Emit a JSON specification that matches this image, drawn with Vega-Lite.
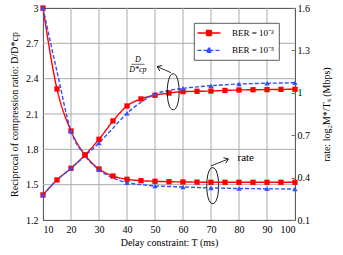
{
  "$schema": "https://vega.github.io/schema/vega-lite/v6.json",
  "width": 252,
  "height": 212,
  "autosize": "none",
  "padding": {"left": 43, "top": 8, "right": 48, "bottom": 35},
  "config": {
    "font": "Liberation Serif",
    "view": {"stroke": "#333", "strokeWidth": 0.9},
    "axis": {"labelFont": "Liberation Serif", "titleFont": "Liberation Serif", "labelFontSize": 10, "titleFontSize": 10, "titleFontWeight": "normal", "labelColor": "#000", "titleColor": "#000", "grid": false, "domain": false},
    "legend": {
      "orient": "none", "legendX": 151, "legendY": 15, "padding": 4,
      "strokeColor": "#333", "strokeWidth": 0.8, "fillColor": "white",
      "labelFont": "Liberation Serif", "labelFontSize": 9, "labelColor": "#000",
      "symbolSize": 100, "symbolStrokeWidth": 1.3, "symbolOpacity": 1, "symbolOffset": 5, "labelOffset": 17, "rowPadding": 5.4
    }
  },
  "datasets": {
    "curves": [
      {"T": 10, "ber": "BER = 10⁻³", "ratio": 1.413, "rate": 1.6},
      {"T": 15, "ber": "BER = 10⁻³", "ratio": 1.54, "rate": 1.027},
      {"T": 20, "ber": "BER = 10⁻³", "ratio": 1.639, "rate": 0.73},
      {"T": 25, "ber": "BER = 10⁻³", "ratio": 1.752, "rate": 0.56},
      {"T": 30, "ber": "BER = 10⁻³", "ratio": 1.885, "rate": 0.461},
      {"T": 35, "ber": "BER = 10⁻³", "ratio": 2.041, "rate": 0.411},
      {"T": 40, "ber": "BER = 10⁻³", "ratio": 2.168, "rate": 0.388},
      {"T": 45, "ber": "BER = 10⁻³", "ratio": 2.228, "rate": 0.378},
      {"T": 50, "ber": "BER = 10⁻³", "ratio": 2.259, "rate": 0.374},
      {"T": 55, "ber": "BER = 10⁻³", "ratio": 2.278, "rate": 0.371},
      {"T": 60, "ber": "BER = 10⁻³", "ratio": 2.29, "rate": 0.369},
      {"T": 65, "ber": "BER = 10⁻³", "ratio": 2.293, "rate": 0.368},
      {"T": 70, "ber": "BER = 10⁻³", "ratio": 2.295, "rate": 0.367},
      {"T": 75, "ber": "BER = 10⁻³", "ratio": 2.3, "rate": 0.367},
      {"T": 80, "ber": "BER = 10⁻³", "ratio": 2.304, "rate": 0.367},
      {"T": 85, "ber": "BER = 10⁻³", "ratio": 2.306, "rate": 0.367},
      {"T": 90, "ber": "BER = 10⁻³", "ratio": 2.307, "rate": 0.367},
      {"T": 95, "ber": "BER = 10⁻³", "ratio": 2.309, "rate": 0.367},
      {"T": 100, "ber": "BER = 10⁻³", "ratio": 2.31, "rate": 0.367},
      {"T": 10, "ber": "BER = 10⁻⁵", "ratio": 1.413, "rate": 1.6},
      {"T": 15, "ber": "BER = 10⁻⁵", "ratio": 1.54, "rate": 1.15},
      {"T": 20, "ber": "BER = 10⁻⁵", "ratio": 1.639, "rate": 0.73},
      {"T": 25, "ber": "BER = 10⁻⁵", "ratio": 1.745, "rate": 0.555},
      {"T": 30, "ber": "BER = 10⁻⁵", "ratio": 1.854, "rate": 0.455},
      {"T": 35, "ber": "BER = 10⁻⁵", "ratio": 1.98, "rate": 0.397},
      {"T": 40, "ber": "BER = 10⁻⁵", "ratio": 2.106, "rate": 0.364},
      {"T": 45, "ber": "BER = 10⁻⁵", "ratio": 2.2, "rate": 0.35},
      {"T": 50, "ber": "BER = 10⁻⁵", "ratio": 2.27, "rate": 0.341},
      {"T": 55, "ber": "BER = 10⁻⁵", "ratio": 2.3, "rate": 0.337},
      {"T": 60, "ber": "BER = 10⁻⁵", "ratio": 2.318, "rate": 0.334},
      {"T": 65, "ber": "BER = 10⁻⁵", "ratio": 2.33, "rate": 0.33},
      {"T": 70, "ber": "BER = 10⁻⁵", "ratio": 2.34, "rate": 0.327},
      {"T": 75, "ber": "BER = 10⁻⁵", "ratio": 2.348, "rate": 0.325},
      {"T": 80, "ber": "BER = 10⁻⁵", "ratio": 2.355, "rate": 0.323},
      {"T": 85, "ber": "BER = 10⁻⁵", "ratio": 2.358, "rate": 0.322},
      {"T": 90, "ber": "BER = 10⁻⁵", "ratio": 2.361, "rate": 0.321},
      {"T": 95, "ber": "BER = 10⁻⁵", "ratio": 2.363, "rate": 0.32},
      {"T": 100, "ber": "BER = 10⁻⁵", "ratio": 2.366, "rate": 0.319}
    ],
    "xticks": [{"T": 20}, {"T": 30}, {"T": 40}, {"T": 50}, {"T": 60}, {"T": 70}, {"T": 80}, {"T": 90}],
    "yticks": [{"g": 1.5}, {"g": 1.8}, {"g": 2.1}, {"g": 2.4}, {"g": 2.7}],
    "ellipses": [
      {"T": 56.5, "ratio": 2.289},
      {"T": 70.6, "ratio": 1.4915}
    ],
    "arrow1": [{"T": 55.7, "ratio": 2.451, "T2": 50.82, "ratio2": 2.502}],
    "arrow2": [{"T": 70.0, "ratio": 1.659, "T2": 76.18, "ratio2": 1.718}],
    "labels": [
      {"T": 82.4, "ratio": 1.724, "label": "rate"}
    ],
    "fracTop": [{"T": 43.9, "ratio": 2.56, "label": "D"}],
    "fracBar": [{"T": 41.6, "T2": 46.3, "ratio": 2.522}],
    "fracBottom": [{"T": 43.9, "ratio": 2.47, "label": "D*cp"}]
  },
  "layer": [
    {
      "data": {"name": "xticks"},
      "mark": {"type": "rule", "stroke": "#ababab", "strokeWidth": 1},
      "encoding": {
        "x": {"field": "T", "type": "quantitative", "scale": {"domain": [10, 100], "nice": false, "zero": false},
          "axis": {"values": [10, 20, 30, 40, 50, 60, 70, 80, 90, 100], "grid": false, "ticks": false, "labelPadding": 4, "title": "Delay constraint: T (ms)", "titlePadding": 3}}
      }
    },
    {
      "data": {"name": "yticks"},
      "mark": {"type": "rule", "stroke": "#ababab", "strokeWidth": 1},
      "encoding": {
        "y": {"field": "g", "type": "quantitative", "scale": {"domain": [1.2, 3], "nice": false, "zero": false}, "axis": null}
      }
    },
    {
      "data": {"name": "curves"},
      "encoding": {
        "x": {"field": "T", "type": "quantitative", "axis": {"values": [10, 20, 30, 40, 50, 60, 70, 80, 90, 100], "grid": false, "ticks": false, "labelPadding": 4, "title": "Delay constraint: T (ms)", "titlePadding": 3}},
        "y": {"field": "ratio", "type": "quantitative", "scale": {"domain": [1.2, 3], "nice": false, "zero": false},
          "axis": {"orient": "left", "values": [1.2, 1.5, 1.8, 2.1, 2.4, 2.7, 3], "format": "~g", "grid": false, "ticks": false, "labelPadding": 5, "title": "Reciprocal of compression ratio: D/D*cp", "titlePadding": 6}}
      },
      "layer": [
        {"mark": {"type": "line", "interpolate": "monotone", "strokeWidth": 1.4},
         "encoding": {
           "color": {"field": "ber", "type": "nominal",
             "scale": {"domain": ["BER = 10⁻³", "BER = 10⁻⁵"], "range": ["#ff0000", "#3050ff"]},
             "legend": {"title": null}},
           "strokeDash": {"field": "ber", "type": "nominal", "scale": {"domain": ["BER = 10⁻³", "BER = 10⁻⁵"], "range": [[1, 0], [4, 2]]}, "legend": {"title": null}}}},
        {"transform": [{"filter": "datum.ber === 'BER = 10⁻³'"}],
         "mark": {"type": "point", "filled": true, "size": 28, "opacity": 1, "shape": "square"},
         "encoding": {"color": {"field": "ber", "type": "nominal", "legend": {"title": null}}}},
        {"transform": [{"filter": "datum.ber === 'BER = 10⁻⁵' && datum.T % 10 === 0"}],
         "mark": {"type": "point", "filled": true, "size": 28, "opacity": 1, "shape": "triangle-up"},
         "encoding": {"color": {"field": "ber", "type": "nominal", "legend": {"title": null}}}},
        {"transform": [{"filter": "false"}],
         "mark": {"type": "point", "filled": true, "opacity": 1},
         "encoding": {
           "color": {"field": "ber", "type": "nominal", "legend": {"title": null}},
           "shape": {"field": "ber", "type": "nominal", "scale": {"domain": ["BER = 10⁻³", "BER = 10⁻⁵"], "range": ["M-2.3,0H2.3M-0.5,-0.5H0.5V0.5H-0.5Z", "M-2.3,0H2.3M0,-0.6L0.55,0.4H-0.55Z"]}, "legend": {"title": null}},
           "strokeDash": {"field": "ber", "type": "nominal", "legend": {"title": null}}}},
        {"data": {"name": "ellipses"},
         "mark": {"type": "point", "shape": "M0,-1C0.44,-1,0.44,1,0,1C-0.44,1,-0.44,-1,0,-1Z", "size": 1296, "filled": false, "strokeWidth": 0.9, "opacity": 1, "stroke": "black"}},
        {"data": {"name": "arrow1"},
         "mark": {"type": "rule", "strokeWidth": 0.8, "stroke": "black"},
         "encoding": {"x2": {"field": "T2"}, "y2": {"field": "ratio2"}}},
        {"data": {"name": "arrow1"},
         "mark": {"type": "point", "shape": "M-1,-0.75L0,0L-1,0.75", "size": 64, "filled": false, "strokeWidth": 0.8, "angle": 203.6, "opacity": 1, "stroke": "black"},
         "encoding": {"x": {"field": "T2", "type": "quantitative"}, "y": {"field": "ratio2", "type": "quantitative"}}},
        {"data": {"name": "arrow2"},
         "mark": {"type": "rule", "strokeWidth": 0.8, "stroke": "black"},
         "encoding": {"x2": {"field": "T2"}, "y2": {"field": "ratio2"}}},
        {"data": {"name": "arrow2"},
         "mark": {"type": "point", "shape": "M-1,-0.75L0,0L-1,0.75", "size": 64, "filled": false, "strokeWidth": 0.8, "angle": 338, "opacity": 1, "stroke": "black"},
         "encoding": {"x": {"field": "T2", "type": "quantitative"}, "y": {"field": "ratio2", "type": "quantitative"}}},
        {"data": {"name": "labels"},
         "mark": {"type": "text", "fontSize": 11, "font": "Liberation Serif", "fill": "black"},
         "encoding": {"text": {"field": "label"}}},
        {"data": {"name": "fracTop"},
         "mark": {"type": "text", "fontSize": 8, "fontStyle": "italic", "font": "Liberation Serif", "fill": "black"},
         "encoding": {"text": {"field": "label"}}},
        {"data": {"name": "fracBar"},
         "mark": {"type": "rule", "strokeWidth": 0.6, "stroke": "black"},
         "encoding": {"x2": {"field": "T2"}}},
        {"data": {"name": "fracBottom"},
         "mark": {"type": "text", "fontSize": 8, "fontStyle": "italic", "font": "Liberation Serif", "fill": "black"},
         "encoding": {"text": {"field": "label"}}}
      ]
    },
    {
      "data": {"name": "curves"},
      "encoding": {
        "x": {"field": "T", "type": "quantitative", "axis": {"values": [10, 20, 30, 40, 50, 60, 70, 80, 90, 100], "grid": false, "ticks": false, "labelPadding": 4, "title": "Delay constraint: T (ms)", "titlePadding": 3}},
        "y": {"field": "rate", "type": "quantitative", "scale": {"domain": [0.1, 1.6], "nice": false, "zero": false},
          "axis": {"orient": "right", "values": [0.1, 0.4, 0.7, 1, 1.3, 1.6], "format": "~g", "grid": false, "ticks": true, "tickSize": -4, "tickColor": "#777", "labelPadding": 6, "title": "rate: log₂M*/Tₛ (Mbps)", "titleAngle": 270, "titlePadding": 22}}
      },
      "layer": [
        {"mark": {"type": "line", "interpolate": "monotone", "strokeWidth": 1.4},
         "encoding": {
           "color": {"field": "ber", "type": "nominal", "legend": {"title": null}},
           "strokeDash": {"field": "ber", "type": "nominal", "legend": {"title": null}}}},
        {"transform": [{"filter": "datum.ber === 'BER = 10⁻³'"}],
         "mark": {"type": "point", "filled": true, "size": 28, "opacity": 1, "shape": "square"},
         "encoding": {"color": {"field": "ber", "type": "nominal", "legend": {"title": null}}}},
        {"transform": [{"filter": "datum.ber === 'BER = 10⁻⁵' && datum.T % 10 === 0"}],
         "mark": {"type": "point", "filled": true, "size": 28, "opacity": 1, "shape": "triangle-up"},
         "encoding": {"color": {"field": "ber", "type": "nominal", "legend": {"title": null}}}}
      ]
    }
  ],
  "resolve": {"scale": {"y": "independent"}}
}
